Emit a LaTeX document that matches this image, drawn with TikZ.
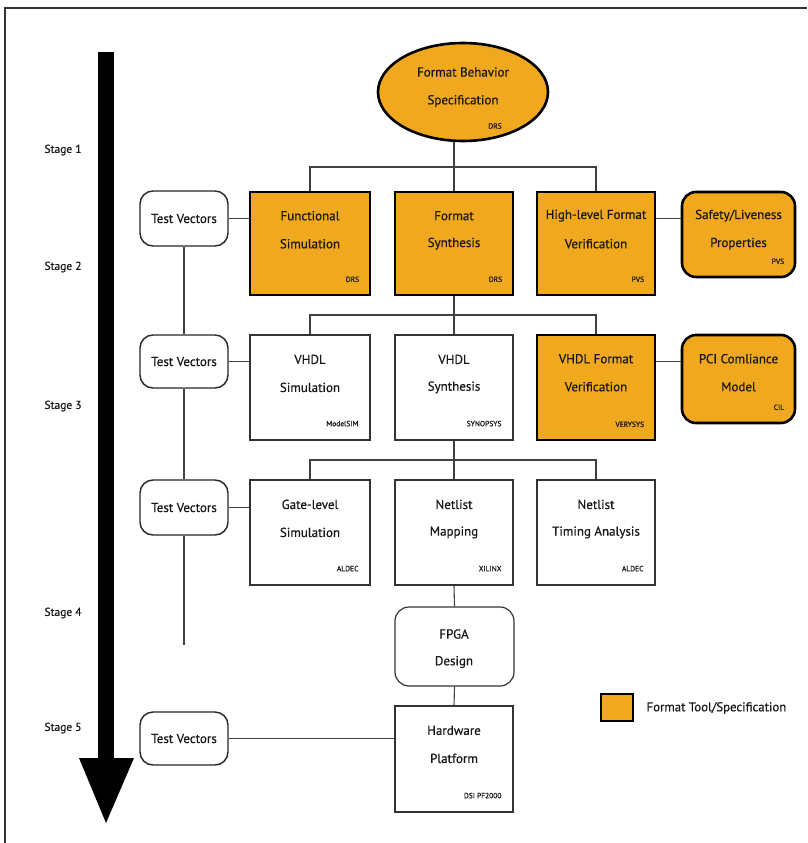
\documentclass[tikz,border=0pt]{standalone}
\usepackage{fontspec}
\setmainfont{PT Sans}
\newfontfamily\labfont[FakeBold=0.6]{PT Sans}
\usetikzlibrary{shapes.geometric,fit}
\definecolor{fmtorange}{RGB}{240,168,30}
\tikzset{
  orangebox/.style={draw=black, line width=2.6pt, fill=fmtorange, inner sep=0pt},
  orangeround/.style={orangebox, rounded corners=14pt},
  whitebox/.style={draw=black!80, line width=1.2pt, fill=white, inner sep=0pt},
  whiteround/.style={whitebox, rounded corners=14pt},
  tvbox/.style={draw=black!85, line width=1.4pt, rounded corners=13pt, fill=white, inner sep=0pt},
  lbl/.style={font=\labfont\fontsize{13}{15}\selectfont, text=black!90, inner sep=1pt},
  tag/.style={font=\labfont\fontsize{7.5}{8}\selectfont, text=black!90, anchor=east, inner sep=0pt},
  stagelbl/.style={font=\labfont\fontsize{11.5}{13}\selectfont, text=black!90},
  conn/.style={draw=black!75, line width=1.1pt}
}
% name, style, x1, y1, x2, y2, line1, line2, tag
\newcommand\fbx[9]{%
  \node[#2, fit={(#3,#4) (#5,#6)}] (#1) {};
  \node[lbl] (#1-a) at ([yshift=-25pt]#1.north) {#7};
  \node[lbl] (#1-b) at ([yshift=-53pt]#1.north) {#8};
  \node[tag] (#1-c) at ([xshift=-12pt,yshift=17pt]#1.south east) {#9};
}
\newcommand\tvnode[5]{%
  \node[tvbox, fit={(#2,#3) (#4,#5)}] (#1) {};
  \node[lbl] (#1-t) at (#1.center) {Test Vectors};
}
\begin{document}
\begin{tikzpicture}[x=1pt,y=-1pt]
\useasboundingbox (0,0) rectangle (807,843);
% frame
\draw[line width=1.2pt, black!80] (5,843) -- (5,8) -- (807,8);

% big stage arrow
\fill[black] (98,52) rectangle (114,762);
\fill[black] (79,758) -- (134,758) -- (106,823) -- cycle;
\node[stagelbl] (s1) at (63,150) {Stage 1};
\node[stagelbl] (s2) at (63,267) {Stage 2};
\node[stagelbl] (s3) at (63,406) {Stage 3};
\node[stagelbl] (s4) at (63,613) {Stage 4};
\node[stagelbl] (s5) at (63,728) {Stage 5};

% top ellipse
\node[ellipse, draw=black, line width=2.6pt, fill=fmtorange, minimum width=170pt, minimum height=98pt, inner sep=0pt] (fbs) at (463,92) {};
\node[lbl] (fbs-a) at (463,72) {Format Behavior};
\node[lbl] (fbs-b) at (463,101) {Specification};
\node[tag, anchor=center] (fbs-c) at (495,126) {DRS};

% stage 1
\tvnode{tv1}{140}{191}{228}{246}
\fbx{fs}{orangebox}{250}{192}{370}{295}{Functional}{Simulation}{DRS}
\fbx{fsy}{orangebox}{395}{192}{513}{295}{Format}{Synthesis}{DRS}
\fbx{hf}{orangebox}{537}{192}{655}{295}{High-level Format}{Verification}{PVS}
\fbx{sl}{orangeround}{682}{192}{795}{277}{Safety/Liveness}{Properties}{PVS}

% stage 2
\tvnode{tv2}{140}{335}{228}{388}
\fbx{vs}{whitebox}{250}{335}{370}{440}{VHDL}{Simulation}{ModelSIM}
\fbx{vsy}{whitebox}{395}{335}{513}{440}{VHDL}{Synthesis}{SYNOPSYS}
\fbx{vf}{orangebox}{537}{335}{655}{440}{VHDL Format}{Verification}{VERYSYS}
\fbx{pci}{orangeround}{682}{335}{795}{423}{PCI Comliance}{Model}{CIL}

% stage 3
\tvnode{tv3}{140}{480}{228}{535}
\fbx{gl}{whitebox}{250}{480}{370}{585}{Gate-level}{Simulation}{ALDEC}
\fbx{nm}{whitebox}{395}{480}{513}{585}{Netlist}{Mapping}{XILINX}
\fbx{nt}{whitebox}{537}{480}{655}{585}{Netlist}{Timing Analysis}{ALDEC}

% stage 4
\node[whiteround, fit={(395,607) (514,686)}] (fpga) {};
\node[lbl] (fpga-a) at (454,634) {FPGA};
\node[lbl] (fpga-b) at (454,662) {Design};

% stage 5
\tvnode{tv5}{140}{712}{228}{765}
\fbx{hw}{whitebox}{395}{706}{513}{812}{Hardware}{Platform}{DSI PF2000}

% connectors
\coordinate (bus1) at (0,167);
\coordinate (bus2) at (0,315);
\coordinate (bus3) at (0,460);
\draw[conn] (fsy.north |- fbs.south) -- (fsy.north);
\draw[conn] (fs.north) -- (fs.north |- bus1) -- (hf.north |- bus1) -- (hf.north);
\draw[conn] (fsy.south) -- (vsy.north);
\draw[conn] (vs.north) -- (vs.north |- bus2) -- (vf.north |- bus2) -- (vf.north);
\draw[conn] (vsy.south) -- (nm.north);
\draw[conn] (gl.north) -- (gl.north |- bus3) -- (nt.north |- bus3) -- (nt.north);
\draw[conn] (nm.south) -- (fpga.north);
\draw[conn] (fpga.south) -- (hw.north);

\draw[conn] (tv1.east) -- (tv1.east -| fs.west);
\draw[conn] (hf.east |- tv1.east) -- (sl.west |- tv1.east);
\draw[conn] (tv2.east) -- (tv2.east -| vs.west);
\draw[conn] (vf.east |- tv2.east) -- (pci.west |- tv2.east);
\draw[conn] (tv3.east) -- (tv3.east -| gl.west);
\draw[conn] (tv5.east) -- (tv5.east -| hw.west);

\coordinate (tvend) at (184,645);
\draw[conn] (tv1.south) -- (tv2.north);
\draw[conn] (tv2.south) -- (tv3.north);
\draw[conn] (tv3.south) -- (tvend);

% legend
\node[orangebox, line width=2.4pt, fit={(601,694) (633,721)}] (leg) {};
\node[font=\labfont\fontsize{12.8}{14}\selectfont, text=black!90, anchor=west] (leg-t) at (643,708) {Format Tool/Specification};
\end{tikzpicture}
\end{document}
